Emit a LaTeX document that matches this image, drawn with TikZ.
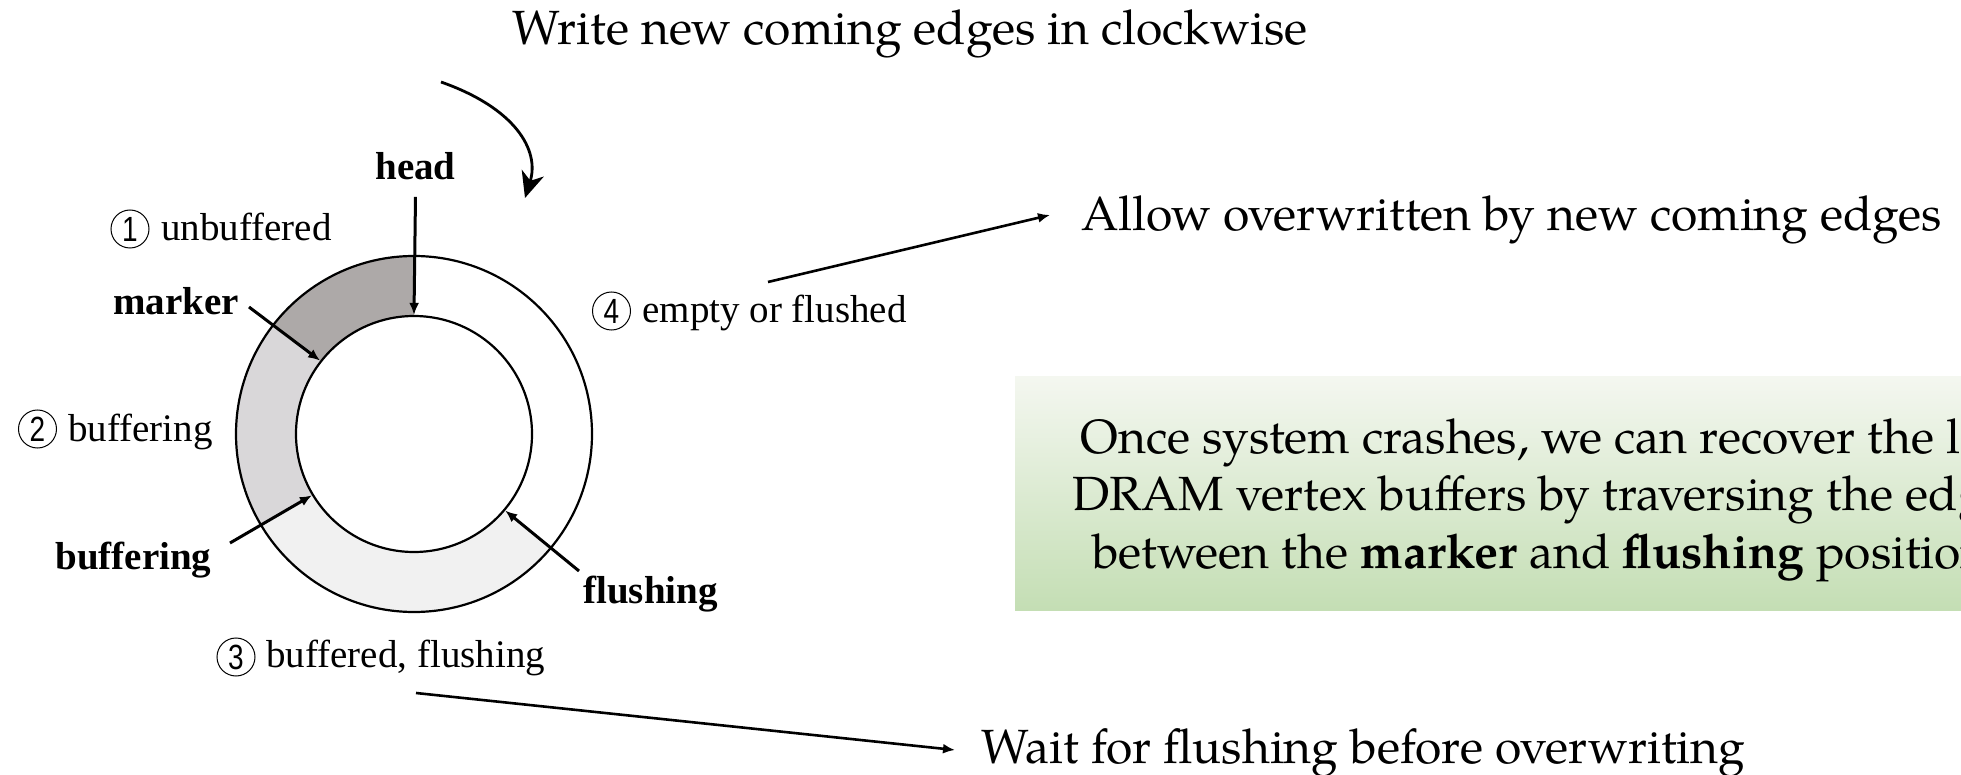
\documentclass[tikz,border=0pt]{standalone}
\usepackage{fontspec}
\setmainfont{Liberation Serif}
\newfontfamily\pal{TeX Gyre Pagella}
\newfontfamily\digitfont{Liberation Sans}
\usetikzlibrary{arrows.meta}

\definecolor{segUnbuf}{HTML}{ADA9A8}
\definecolor{segBuf}{HTML}{D9D7D9}
\definecolor{segFlush}{HTML}{F1F1F1}
\definecolor{boxTop}{HTML}{F4F7F0}
\definecolor{boxMid}{HTML}{D3E6C6}
\definecolor{boxBot}{HTML}{C4DEB4}

\begin{document}
\begin{tikzpicture}[x=0.5pt,y=-0.5pt,
  lbl/.style={font=\fontsize{19.5}{22}\selectfont, inner sep=0pt, anchor=base west},
  blbl/.style={font=\fontsize{19.5}{22}\selectfont\bfseries, inner sep=0pt, anchor=base west},
  big/.style={font=\pal\fontsize{24}{28}\selectfont, inner sep=0pt, anchor=base west},
  num/.style={circle, draw, line width=0.5pt, minimum size=19pt, inner sep=0pt,
              font=\digitfont\fontsize{17.5}{17.5}\selectfont},
  ptr/.style={-{Latex[length=6pt,width=5pt]}, line width=1.5pt},
  longptr/.style={-{Latex[length=6pt,width=5pt]}, line width=1.3pt},
  ringline/.style={line width=1.1pt}
]
% canvas
\clip (0,0) rectangle (1961,775);
\fill[white] (0,0) rectangle (1961,775);

% ---- ring buffer ----
\coordinate (C) at (414,434);
\fill[segUnbuf] ([shift={(C)}]90:89pt) arc[start angle=90,end angle=142,radius=89pt]
  -- ([shift={(C)}]142:59pt) arc[start angle=142,end angle=90,radius=59pt] -- cycle;
\fill[segBuf] ([shift={(C)}]142:89pt) arc[start angle=142,end angle=211,radius=89pt]
  -- ([shift={(C)}]211:59pt) arc[start angle=211,end angle=142,radius=59pt] -- cycle;
\fill[segFlush] ([shift={(C)}]211:89pt) arc[start angle=211,end angle=320,radius=89pt]
  -- ([shift={(C)}]320:59pt) arc[start angle=320,end angle=211,radius=59pt] -- cycle;
\node[circle, draw, ringline, minimum size=178pt, inner sep=0pt] (outer) at (C) {};
\node[circle, draw, ringline, minimum size=118pt, inner sep=0pt] (inner) at (C) {};

% ---- pointers into the ring ----
\node[blbl] (head) at (375,180) {head};
\draw[ptr] ([yshift=-8pt]head.south) -- (inner.90);

\node[blbl] (marker) at (113,315) {marker};
\coordinate (markerTail) at (249,307);
\draw[ptr] (markerTail) -- (inner.142);

\node[blbl] (bufptr) at (55,569) {buffering};
\coordinate (bufTail) at (230,543);
\draw[ptr] (bufTail) -- (inner.211);

\node[blbl] (flushptr) at (583,603) {flushing};
\coordinate (flushTail) at (579,571);
\draw[ptr] (flushTail) -- (inner.320);

% ---- region labels ----
\node[num] (n1) at (130,229) {\scalebox{0.8}[1]{1}};
\node[lbl] (l1) at (161,241) {unbuffered};
\node[num] (n2) at (37.5,429) {\scalebox{0.8}[1]{2}};
\node[lbl] (l2) at (68,441) {buffering};
\node[num] (n3) at (236,657) {\scalebox{0.8}[1]{3}};
\node[lbl] (l3) at (266,667) {buffered, flushing};
\node[num] (n4) at (611.5,311) {\scalebox{0.8}[1]{4}};
\node[lbl] (l4) at (642,323) {empty or flushed};

% ---- write direction ----
\node[big] (title) at (512,45) {Write new coming edges in clockwise};
\coordinate (cwStart) at (441,82);
\coordinate (cwEnd) at (525,198);
\draw[line width=1.4pt, -{Stealth[length=13pt,width=11.5pt,inset=4pt]}]
  (cwStart) .. controls (515,108) and (540,150) .. (cwEnd);

% ---- notes ----
\node[big] (allow) at (1081,231) {Allow overwritten by new coming edges};
\coordinate (allowTail) at (768,282);
\coordinate (allowTip) at (1050,215);
\draw[longptr] (allowTail) -- (allowTip);

\node[big] (wait) at (981,763) {Wait for flushing before overwriting};
\coordinate (waitTail) at (416,693);
\coordinate (waitTip) at (955,750);
\draw[longptr] (waitTail) -- (waitTip);

% ---- recovery note ----
\shade[top color=boxTop, middle color=boxMid, bottom color=boxBot]
  (1015,377) rectangle (2100,610);
\node[big] (rec1) at (1080,453) {Once system crashes, we can recover the lost};
\node[big] (rec2) at (1072,510) {DRAM vertex buffers by traversing the edges};
\node[big] (rec3) at (1092,568) {between the \textbf{marker} and \textbf{flushing} positions.};
\end{tikzpicture}
\end{document}
